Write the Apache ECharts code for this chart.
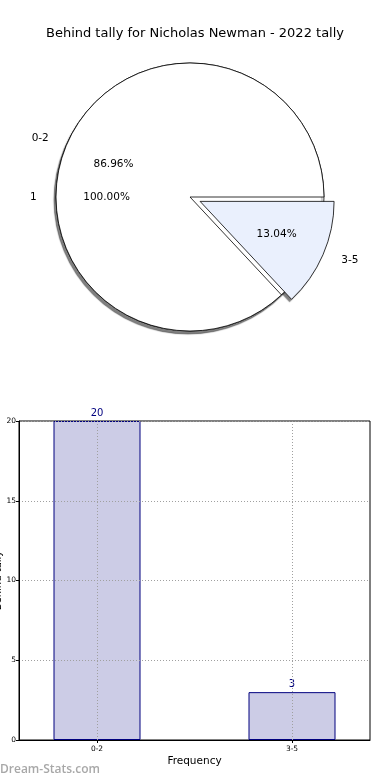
<!DOCTYPE html>
<html><head><meta charset="utf-8">
<script src="https://cdn.jsdelivr.net/npm/echarts@6/dist/echarts.min.js"></script>
<style>html,body{margin:0;padding:0;background:#fff}#c{width:390px;height:780px}</style>
</head><body><div id="c"></div>
<script>
// ---- data ----
const categories = ['0-2', '3-5'];
const counts = [20, 3];
const totalNames = ['1'];
const totalValues = [1];
const xPositions = [0, 1];
const yTicks = [0, 5, 10, 15, 20];
const titleText = 'Behind tally for Nicholas Newman - 2022 tally';

// ---- layout / style ----
const FONT = 'DejaVu Sans';
const R = 134;
const C = [190, 197];
const OFF = 11;
const sliceColors = ['#ffffff', '#eaf0fd'];
const shadow = {shadowBlur: 1, shadowColor: 'rgba(0,0,0,0.5)', shadowOffsetX: -2, shadowOffsetY: 3};
const pctFmt = p => p.percent.toFixed(2) + '%';
const dots = [1, 2];

const mainData = categories.map((c, i) => ({
  name: c, value: counts[i], selected: i === 1,
  itemStyle: {color: sliceColors[i]}
}));
const totalData = totalNames.map((n, i) => ({name: n, value: totalValues[i]}));
const nameLabel = {
  show: true, position: 'outside', formatter: '{b}', color: '#000',
  fontFamily: FONT, fontSize: 10.5, distanceToLabelLine: 6
};
const nameLine = {show: false, length: R * 0.1, length2: 0};
const pctLabel = {show: true, position: 'inside', formatter: pctFmt, color: '#000', fontFamily: FONT, fontSize: 10.5};
const common = {
  type: 'pie', center: C, startAngle: 0, clockwise: false, avoidLabelOverlap: false,
  selectedMode: 'single', selectedOffset: OFF, emphasis: {disabled: true}, silent: true, animation: false
};
const clear = {color: 'rgba(0,0,0,0)', borderWidth: 0};

const option = {
  animation: false,
  title: {text: titleText, left: 'center', top: 22,
    textStyle: {fontFamily: FONT, fontSize: 13, fontWeight: 'normal', color: '#000'}},
  graphic: [{type: 'text', left: 0, top: 764,
    style: {text: 'Dream-Stats.com', fill: '#a8a8a8', font: '600 12px "Open Sans"'}}],
  grid: {left: 19, right: 20, top: 421, bottom: 40, show: true, borderColor: '#000', borderWidth: 1,
    outerBoundsMode: 'none'},
  xAxis: {
    type: 'value', min: -0.4, max: 1.4, z: 3,
    axisLine: {show: true, onZero: false, lineStyle: {color: '#000', width: 1}},
    axisTick: {show: true, inside: false, length: 3, customValues: xPositions, lineStyle: {color: '#000'}},
    axisLabel: {customValues: xPositions, formatter: v => categories[Math.round(v)] || '',
      fontFamily: FONT, fontSize: 7.5, color: '#000', margin: 5},
    splitLine: {show: true, lineStyle: {color: '#a0a0a0', type: dots, width: 1}},
    name: 'Frequency', nameLocation: 'middle', nameGap: 16,
    nameTextStyle: {fontFamily: FONT, fontSize: 10.5, color: '#000'}
  },
  yAxis: {
    type: 'value', min: 0, max: 20, interval: 5, z: 3,
    axisLine: {show: true, onZero: false, lineStyle: {color: '#000', width: 1}},
    axisTick: {show: true, inside: false, length: 3, lineStyle: {color: '#000'}},
    axisLabel: {fontFamily: FONT, fontSize: 7.5, color: '#000', margin: 3,
      formatter: v => yTicks.includes(v) ? String(v) : ''},
    splitLine: {show: true, lineStyle: {color: '#a0a0a0', type: dots, width: 1}},
    name: 'Behind tally', nameLocation: 'middle', nameGap: 16, nameMoveOverlap: false,
    nameTextStyle: {fontFamily: FONT, fontSize: 10, color: '#000'}
  },
  series: [
    // shadow of the exploded slice (lies under the base pie)
    Object.assign({}, common, {
      z: 0, radius: [0, R],
      data: mainData.map(d => ({name: d.name, value: d.value, selected: d.selected,
        itemStyle: d.selected ? Object.assign({color: '#ffffff'}, shadow) : {color: 'rgba(0,0,0,0)'}})),
      itemStyle: {borderWidth: 0}, label: {show: false}, labelLine: {show: false}
    }),
    Object.assign({}, common, {
      z: 1, radius: [0, R], data: totalData,
      itemStyle: Object.assign({color: '#ffffff', borderColor: '#000', borderWidth: 0.8}, shadow),
      label: nameLabel, labelLine: nameLine
    }),
    Object.assign({}, common, {
      z: 2, radius: [0, R], data: mainData,
      itemStyle: {borderColor: '#000', borderWidth: 0.8},
      label: nameLabel, labelLine: nameLine
    }),
    Object.assign({}, common, {
      z: 3, radius: [0, R * 1.2], data: totalData.map(d => Object.assign({}, d)),
      itemStyle: clear, label: pctLabel, labelLine: {show: false}
    }),
    Object.assign({}, common, {
      z: 3, radius: [0, R * 1.2], data: mainData.map(d => ({name: d.name, value: d.value, selected: d.selected})),
      itemStyle: clear, label: pctLabel, labelLine: {show: false}
    }),
    {
      type: 'bar', z: 2, barWidth: 87,
      data: xPositions.map((x, i) => [x, counts[i]]),
      itemStyle: {color: '#ccccE6', borderColor: '#00007f', borderWidth: 1},
      label: {show: true, position: 'top', distance: 3, color: '#00007f', fontFamily: FONT, fontSize: 10},
      silent: true
    }
  ]
};
const chart = echarts.init(document.getElementById('c'), null, {renderer: 'canvas'});
chart.setOption(option);
</script></body></html>
